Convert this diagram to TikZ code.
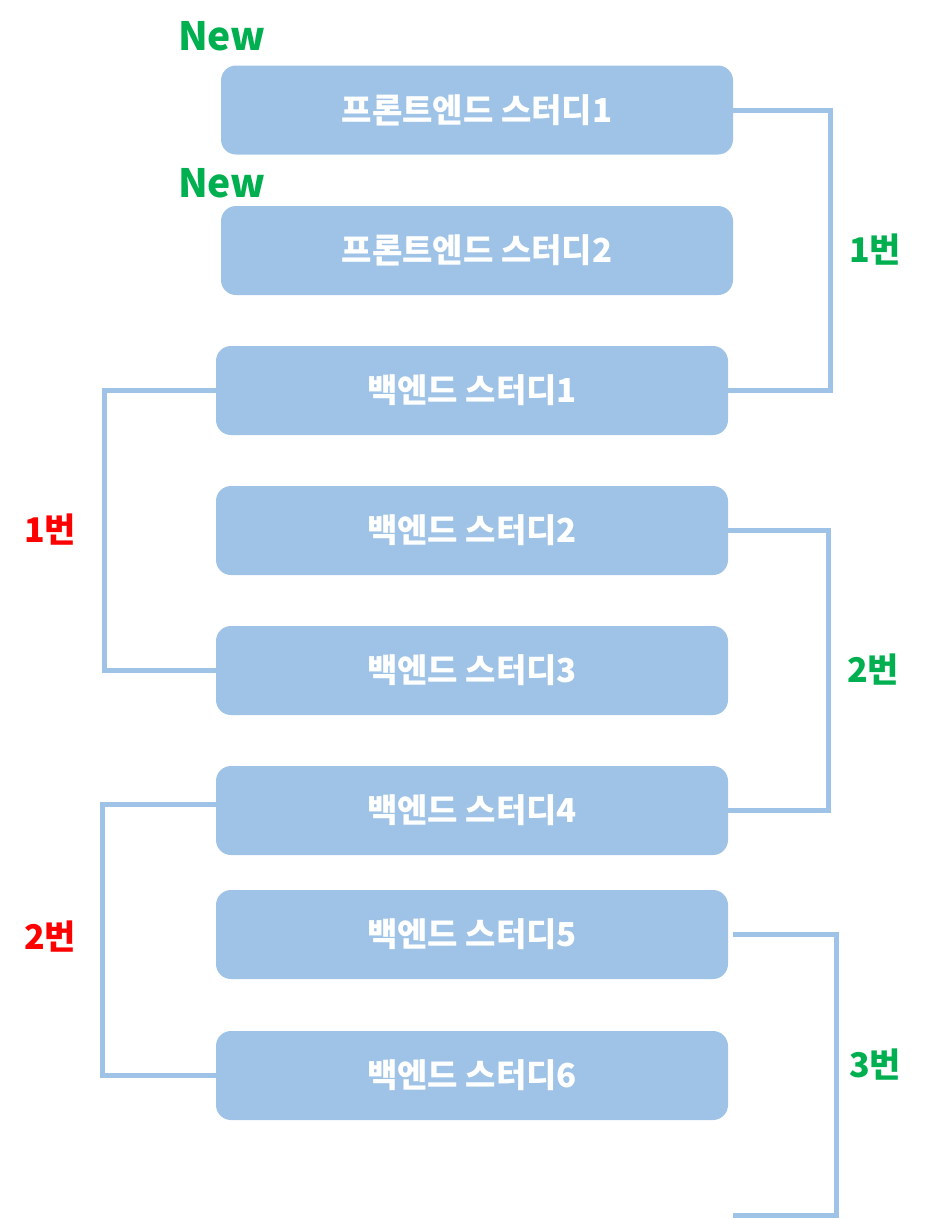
\documentclass[tikz,border=0pt]{standalone}
\usepackage{fontspec}
\setmainfont{Noto Sans CJK KR}
\usepackage{tikz}
\usepackage{xcolor}
\definecolor{studyblue}{HTML}{9FC3E7}
\definecolor{newgreen}{HTML}{00B050}
\definecolor{pairred}{HTML}{FF0000}

\begin{document}
\begin{tikzpicture}[x=1pt, y=-1pt,
    study/.style={fill=studyblue, rounded corners=15pt, minimum width=512pt,
      minimum height=89pt, inner sep=0pt, outer sep=0pt, text=white,
      font=\fontsize{33}{38}\selectfont\bfseries},
    link/.style={draw=studyblue, line width=5pt},
    tag/.style={font=\fontsize{34}{40}\selectfont\bfseries}]
  \useasboundingbox (0,0) rectangle (927,1219);
  % --- study boxes ------------------------------------------------------
  \node[study] (fe1) at (477,110)   {프론트엔드 스터디1};
  \node[study] (fe2) at (477,250.5) {프론트엔드 스터디2};
  \node[study] (be1) at (472,390.5) {백엔드 스터디1};
  \node[study] (be2) at (472,530.5) {백엔드 스터디2};
  \node[study] (be3) at (472,670.5) {백엔드 스터디3};
  \node[study] (be4) at (472,810.5) {백엔드 스터디4};
  \node[study] (be5) at (472,934.5) {백엔드 스터디5};
  \node[study] (be6) at (472,1075.5) {백엔드 스터디6};
  \node[tag, text=newgreen, font=\fontsize{39}{44}\selectfont\bfseries] (new1) at (222,36)  {New};
  \node[tag, text=newgreen, font=\fontsize{39}{44}\selectfont\bfseries] (new2) at (222,183) {New};
  % --- pairings on the right --------------------------------------------
  \draw[link] (fe1.east) -- ++(97,0) |- (be1.east);
  \draw[link] (be2.east) -- ++(100,0) |- (be4.east);
  \coordinate (end3) at (733,1215);
  \draw[link] ([xshift=5pt]be5.east) -- ++(103,0) |- (end3);
  \node[tag, text=newgreen] (g1) at (875,250)  {1번};
  \node[tag, text=newgreen] (g2) at (873,670)  {2번};
  \node[tag, text=newgreen] (g3) at (875,1065) {3번};
  % --- pairings on the left ---------------------------------------------
  \draw[link] (be1.west) -- ++(-112,0) |- (be3.west);
  \draw[link] ([yshift=6pt]be4.west) -- ++(-114,0) |- (be6.west);
  \node[tag, text=pairred] (r1) at (50,530) {1번};
  \node[tag, text=pairred] (r2) at (50,937) {2번};
\end{tikzpicture}
\end{document}
